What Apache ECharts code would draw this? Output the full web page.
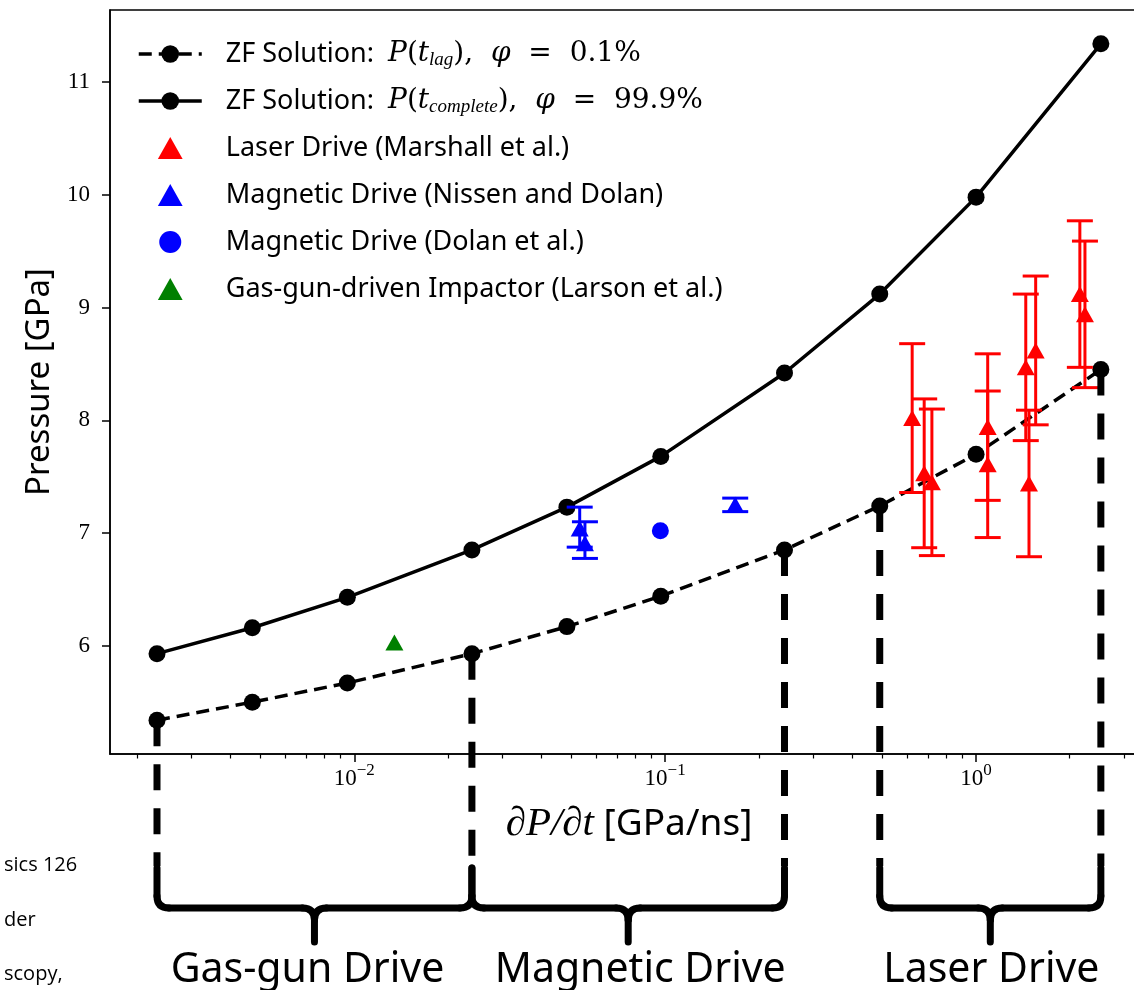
<!DOCTYPE html>
<html>
<head>
<meta charset="utf-8">
<script src="https://cdn.jsdelivr.net/npm/echarts@6/dist/echarts.min.js"></script>
<style>
  html, body { margin: 0; padding: 0; background: #fff; }
  #main { width: 1134px; height: 990px; }
</style>
</head>
<body>
<div id="main"></div>
<script>
// ZF solution: loading rate dP/dt [GPa/ns] and pressure [GPa]
var zfRate = [0.00232, 0.0047, 0.0095, 0.0239, 0.0483, 0.0968, 0.242, 0.49, 1.0, 2.52]
var zfLag = [5.34, 5.50, 5.67, 5.93, 6.17, 6.44, 6.85, 7.24, 7.70, 8.45]
var zfComplete = [5.93, 6.16, 6.43, 6.85, 7.23, 7.68, 8.42, 9.12, 9.98, 11.34]

// Laser drive (Marshall et al.)
var laserRate = [0.623, 0.681, 0.721, 1.09, 1.09, 1.445, 1.48, 1.555, 2.157, 2.24]
var laserP = [8.02, 7.53, 7.45, 7.94, 7.61, 8.47, 7.44, 8.62, 9.12, 8.94]
var laserErr = [0.66, 0.66, 0.65, 0.65, 0.65, 0.65, 0.65, 0.66, 0.65, 0.65]

// Magnetic drive (Nissen and Dolan)
var nissenRate = [0.0531, 0.0552, 0.168]
var nissenP = [7.04, 6.91, 7.25]
var nissenLo = [6.875, 6.775, 7.19]
var nissenHi = [7.23, 7.10, 7.31]

// Magnetic drive (Dolan et al.)
var dolanRate = [0.0965]
var dolanP = [7.02]

// Gas-gun-driven impactor (Larson et al.)
var larsonRate = [0.01346]
var larsonP = [6.03]

// ticks
var yTicks = [6, 7, 8, 9, 10, 11]
var xMajor = [0.01, 0.1, 1]
var xMinor = [0.002, 0.003, 0.004, 0.005, 0.006, 0.007, 0.008, 0.009,
  0.02, 0.03, 0.04, 0.05, 0.06, 0.07, 0.08, 0.09,
  0.2, 0.3, 0.4, 0.5, 0.6, 0.7, 0.8, 0.9,
  2, 3]

// drive regions below the axis, and the ZF points the guide lines drop from
var driveNames = ['Gas-gun Drive', 'Magnetic Drive', 'Laser Drive']
var driveStart = [0.00232, 0.0239, 0.49]
var driveEnd = [0.0239, 0.242, 2.52]
var guideIdx = [0, 3, 6, 7, 9]

var nameLag = 'ZF Solution: P(t_lag), phi = 0.1%'
var nameComplete = 'ZF Solution: P(t_complete), phi = 99.9%'
var nameLaser = 'Laser Drive (Marshall et al.)'
var nameNissen = 'Magnetic Drive (Nissen and Dolan)'
var nameDolan = 'Magnetic Drive (Dolan et al.)'
var nameLarson = 'Gas-gun-driven Impactor (Larson et al.)'

var legendText = {}
legendText[nameLag] = 'ZF Solution:  {m|P}{r|(}{m|t}{sub|lag}{r|),  }{m|φ}{r|  =  0.1%}'
legendText[nameComplete] = 'ZF Solution:  {m|P}{r|(}{m|t}{sub|complete}{r|),  }{m|φ}{r|  =  99.9%}'

var serif = 'Liberation Serif'
var mathFont = 'DejaVu Serif'
var sans = 'Noto Sans'
var triIcon = 'path://M9,0 L18,16 L0,16 Z'

function pairs(xs, ys) {
  return xs.map((x, i) => [x, ys[i]])
}

function errorBars(color) {
  return function (params, api) {
    var x = api.value(0)
    var top = api.coord([x, api.value(3)])
    var bot = api.coord([x, api.value(2)])
    var cap = 13
    var st = { stroke: color, lineWidth: 3 }
    return {
      type: 'group',
      children: [
        { type: 'line', shape: { x1: top[0], y1: top[1], x2: bot[0], y2: bot[1] }, style: st },
        { type: 'line', shape: { x1: top[0] - cap, y1: top[1], x2: top[0] + cap, y2: top[1] }, style: st },
        { type: 'line', shape: { x1: bot[0] - cap, y1: bot[1], x2: bot[0] + cap, y2: bot[1] }, style: st }
      ]
    }
  }
}

function renderGuide(params, api) {
  var p = api.coord([api.value(0), api.value(1)])
  return {
    type: 'line',
    shape: { x1: p[0], y1: p[1], x2: p[0], y2: 866 },
    style: { stroke: '#000', lineWidth: 7, lineDash: [26, 18] }
  }
}

// label nudges so the text sits like the original slide
var labelDx = [-7, 12, 1]

function renderBrace(params, api) {
  var a = api.coord([api.value(0), 6])[0]
  var b = api.coord([api.value(1), 6])[0]
  var m = (a + b) / 2
  var top = 868, mid = 908, tip = 942, r = 12
  var st = { stroke: '#000', lineWidth: 7, lineCap: 'round', fill: null }
  return {
    type: 'group',
    children: [
      { type: 'line', shape: { x1: a, y1: top, x2: a, y2: mid - r }, style: st },
      { type: 'bezierCurve', shape: { x1: a, y1: mid - r, cpx1: a, cpy1: mid, x2: a + r, y2: mid }, style: st },
      { type: 'line', shape: { x1: a + r, y1: mid, x2: m - r, y2: mid }, style: st },
      { type: 'bezierCurve', shape: { x1: m - r, y1: mid, cpx1: m, cpy1: mid, x2: m, y2: mid + r }, style: st },
      { type: 'bezierCurve', shape: { x1: m + r, y1: mid, cpx1: m, cpy1: mid, x2: m, y2: mid + r }, style: st },
      { type: 'line', shape: { x1: m, y1: mid + r, x2: m, y2: tip }, style: st },
      { type: 'line', shape: { x1: m + r, y1: mid, x2: b - r, y2: mid }, style: st },
      { type: 'bezierCurve', shape: { x1: b - r, y1: mid, cpx1: b, cpy1: mid, x2: b, y2: mid - r }, style: st },
      { type: 'line', shape: { x1: b, y1: mid - r, x2: b, y2: top }, style: st },
      {
        type: 'text',
        style: {
          x: m + labelDx[params.dataIndex], y: 970, text: driveNames[params.dataIndex],
          fill: '#000', font: '41px "Noto Sans"', align: 'center', verticalAlign: 'middle'
        }
      }
    ]
  }
}

var myChart = echarts.init(document.getElementById('main'))
var option = {
  animation: false,
  backgroundColor: '#fff',
  grid: {
    left: 110, top: 10, width: 1038, height: 744,
    show: true, borderColor: '#000', borderWidth: 1.5,
    outerBoundsMode: 'none'
  },
  legend: {
    orient: 'vertical',
    left: 132, top: 34,
    itemWidth: 63, itemHeight: 22, itemGap: 17,
    symbolKeepAspect: true,
    lineStyle: { width: 3.5 },
    data: [
      { name: nameLag },
      { name: nameComplete },
      { name: nameLaser, icon: triIcon },
      { name: nameNissen, icon: triIcon },
      { name: nameDolan },
      { name: nameLarson, icon: triIcon }
    ],
    formatter: function (name) { return legendText[name] || name },
    textStyle: {
      fontFamily: sans, fontSize: 27, color: '#000', lineHeight: 30,
      padding: [0, 0, 0, 19],
      rich: {
        m: { fontFamily: mathFont, fontStyle: 'italic', fontSize: 28, lineHeight: 30, color: '#000' },
        r: { fontFamily: mathFont, fontSize: 28, lineHeight: 30, color: '#000' },
        sub: { fontFamily: serif, fontStyle: 'italic', fontSize: 19, lineHeight: 20, verticalAlign: 'bottom', color: '#000' }
      }
    }
  },
  xAxis: [{
    type: 'log', logBase: 10,
    min: 0.001638, max: 3.573,
    name: '{m|∂P/∂t} [GPa/ns]',
    nameLocation: 'middle', nameGap: 50,
    nameTextStyle: {
      fontFamily: sans, fontSize: 37, color: '#000',
      rich: { m: { fontFamily: serif, fontStyle: 'italic', fontSize: 41, color: '#000' } }
    },
    splitLine: { show: false },
    axisLine: { lineStyle: { color: '#000', width: 1.5 } },
    axisTick: { customValues: xMajor, length: 8, lineStyle: { color: '#000', width: 1.5 } },
    axisLabel: {
      customValues: xMajor, margin: 8,
      formatter: function (v) {
        var e = Math.round(Math.log10(v))
        return '{b|10}{sup|' + (e < 0 ? '−' + (-e) : e) + '}'
      },
      rich: {
        b: { fontFamily: serif, fontSize: 23, lineHeight: 28, verticalAlign: 'bottom', color: '#000' },
        sup: { fontFamily: serif, fontSize: 17, lineHeight: 18, verticalAlign: 'top', color: '#000', padding: [0, 0, 12, 0] }
      }
    }
  }, {
    type: 'log', logBase: 10,
    min: 0.001638, max: 3.573,
    position: 'bottom',
    splitLine: { show: false },
    axisLine: { show: false },
    axisLabel: { show: false },
    axisTick: { customValues: xMinor, length: 4.5, lineStyle: { color: '#000', width: 1.2 } }
  }],
  yAxis: {
    type: 'value',
    min: 5.04, max: 11.64,
    name: 'Pressure [GPa]',
    nameLocation: 'middle', nameGap: 54, nameRotate: 90,
    nameTextStyle: { fontFamily: sans, fontSize: 33, color: '#000' },
    splitLine: { show: false },
    axisLine: { lineStyle: { color: '#000', width: 1.5 } },
    axisTick: { customValues: yTicks, length: 8, lineStyle: { color: '#000', width: 1.5 } },
    axisLabel: { customValues: yTicks, margin: 20, fontFamily: serif, fontSize: 23, color: '#000' }
  },
  graphic: [
    { type: 'text', left: 4, top: 855, style: { text: 'sics 126', font: '20px "Open Sans"', fill: '#000' } },
    { type: 'text', left: 4, top: 910, style: { text: 'der', font: '20px "Open Sans"', fill: '#000' } },
    { type: 'text', left: 4, top: 964, style: { text: 'scopy,', font: '20px "Open Sans"', fill: '#000' } }
  ],
  series: [
    {
      name: nameLag, type: 'line', data: pairs(zfRate, zfLag),
      symbol: 'circle', symbolSize: 17, z: 3,
      itemStyle: { color: '#000' },
      lineStyle: { color: '#000', width: 3.5, type: [13, 7] }
    },
    {
      name: nameComplete, type: 'line', data: pairs(zfRate, zfComplete),
      symbol: 'circle', symbolSize: 17, z: 3,
      itemStyle: { color: '#000' },
      lineStyle: { color: '#000', width: 3.5 }
    },
    {
      type: 'custom', renderItem: errorBars('#ff0000'), z: 4,
      encode: { x: 0, y: [2, 3] },
      data: laserRate.map((x, i) => [x, laserP[i], laserP[i] - laserErr[i], laserP[i] + laserErr[i]])
    },
    {
      name: nameLaser, type: 'scatter', data: pairs(laserRate, laserP),
      symbol: 'triangle', symbolSize: [18, 16], z: 5,
      itemStyle: { color: '#ff0000', opacity: 1 }
    },
    {
      type: 'custom', renderItem: errorBars('#0000ff'), z: 4,
      encode: { x: 0, y: [2, 3] },
      data: nissenRate.map((x, i) => [x, nissenP[i], nissenLo[i], nissenHi[i]])
    },
    {
      name: nameNissen, type: 'scatter', data: pairs(nissenRate, nissenP),
      symbol: 'triangle', symbolSize: [18, 16], z: 5,
      itemStyle: { color: '#0000ff', opacity: 1 }
    },
    {
      name: nameDolan, type: 'scatter', data: pairs(dolanRate, dolanP),
      symbol: 'circle', symbolSize: 17, z: 5,
      itemStyle: { color: '#0000ff', opacity: 1 }
    },
    {
      name: nameLarson, type: 'scatter', data: pairs(larsonRate, larsonP),
      symbol: 'triangle', symbolSize: [18, 16], z: 5,
      itemStyle: { color: '#008000', opacity: 1 }
    },
    {
      type: 'custom', renderItem: renderGuide, clip: false, z: 6, silent: true,
      data: guideIdx.map(i => [zfRate[i], zfLag[i]])
    },
    {
      type: 'custom', renderItem: renderBrace, clip: false, z: 6, silent: true,
      data: driveStart.map((x, i) => [x, driveEnd[i]])
    }
  ]
}
myChart.setOption(option)
</script>
</body>
</html>
